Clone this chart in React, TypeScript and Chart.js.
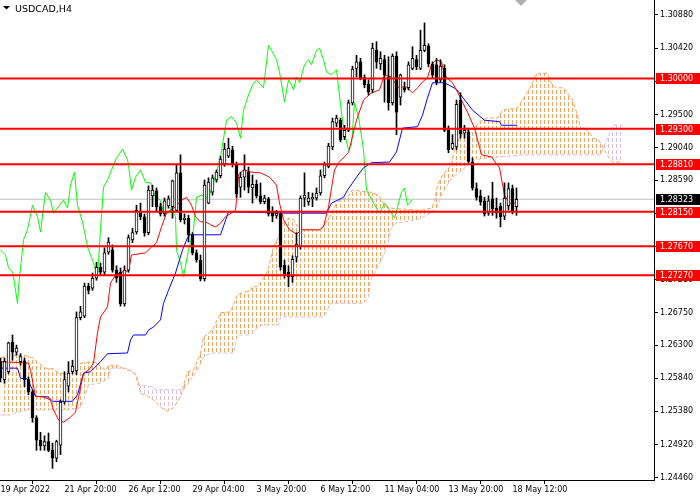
import React, { useEffect, useRef } from "react";
import { Chart, registerables } from "chart.js";

Chart.register(...registerables);

const SYMBOL = "USDCAD,H4";

const X_LABELS = [
  "19 Apr 2022", "21 Apr 20:00", "26 Apr 12:00", "29 Apr 04:00", "3 May 20:00",
  "6 May 12:00", "11 May 04:00", "13 May 20:00", "18 May 12:00",
];
const X_LABEL_BARS = [0, 16, 32, 48, 64, 80, 96, 112, 128];

const Y_TICKS = [
  1.3088, 1.3042, 1.2996, 1.295, 1.2904, 1.2859, 1.2813, 1.2767,
  1.2721, 1.2675, 1.263, 1.2584, 1.2538, 1.2492, 1.2446,
];

const LEVELS = [1.3, 1.293, 1.2881, 1.2815, 1.2767, 1.2727];
const LAST_PRICE = 1.28323;

const Y_MIN = 1.24428;
const Y_MAX = 1.31088;
const X_MIN = -0.125;
const X_MAX = 163.375;

const OPEN = [
  1.2607, 1.2582, 1.2593, 1.2634, 1.262, 1.2607, 1.2608, 1.2582, 1.2565, 1.2529,
  1.2498, 1.249, 1.2496, 1.2484, 1.2473, 1.2491, 1.2551, 1.2573, 1.2593, 1.2594,
  1.2668, 1.267, 1.2712, 1.2709, 1.2723, 1.2738, 1.2731, 1.2759, 1.2762, 1.2734,
  1.2731, 1.2687, 1.2734, 1.2776, 1.2787, 1.2815, 1.2808, 1.2786, 1.2837, 1.2844,
  1.2822, 1.2812, 1.2823, 1.2822, 1.2817, 1.2869, 1.2804, 1.2806, 1.2783, 1.2758,
  1.2748, 1.2722, 1.2827, 1.2842, 1.2859, 1.2865, 1.2881, 1.2892, 1.2901, 1.288,
  1.2849, 1.2863, 1.287, 1.2848, 1.2853, 1.2837, 1.2829, 1.2833, 1.2816, 1.281,
  1.2812, 1.2741, 1.2731, 1.2725, 1.2752, 1.2767, 1.2834, 1.2829, 1.2833, 1.2834,
  1.2841, 1.2865, 1.2878, 1.2905, 1.2938, 1.2942, 1.2919, 1.2928, 1.2966, 1.3014,
  1.3023, 1.3001, 1.2992, 1.2984, 1.3039, 1.302, 1.3026, 1.3002, 1.2966, 1.3031,
  1.2974, 1.2987, 1.2987, 1.3014, 1.3026, 1.3014, 1.3039, 1.3045, 1.302, 1.3019,
  1.2998, 1.3014, 1.2928, 1.2903, 1.2905, 1.297, 1.2924, 1.2926, 1.2884, 1.2847,
  1.2837, 1.283, 1.2813, 1.2833, 1.282, 1.2823, 1.2809, 1.2823, 1.2847, 1.2822,
];
const HIGH = [
  1.2612, 1.2612, 1.2634, 1.2644, 1.263, 1.2618, 1.2612, 1.2586, 1.2568, 1.2532,
  1.2509, 1.2504, 1.2508, 1.2494, 1.2498, 1.2554, 1.2593, 1.2607, 1.2609, 1.2676,
  1.2684, 1.2716, 1.2716, 1.273, 1.2745, 1.2744, 1.2765, 1.2779, 1.2769, 1.274,
  1.2737, 1.274, 1.2783, 1.2792, 1.2824, 1.2827, 1.2812, 1.2851, 1.2852, 1.2848,
  1.2827, 1.2834, 1.2837, 1.2859, 1.288, 1.2894, 1.2812, 1.281, 1.2786, 1.2762,
  1.2755, 1.2859, 1.2862, 1.2866, 1.2873, 1.2892, 1.291, 1.2917, 1.2906, 1.2884,
  1.287, 1.2894, 1.2877, 1.2866, 1.2859, 1.2855, 1.2838, 1.2835, 1.2822, 1.2817,
  1.2815, 1.2748, 1.274, 1.2754, 1.2786, 1.2837, 1.2869, 1.2842, 1.2841, 1.2848,
  1.2873, 1.2884, 1.291, 1.2945, 1.2949, 1.2945, 1.2935, 1.297, 1.3017, 1.3032,
  1.3028, 1.3005, 1.2998, 1.3049, 1.3051, 1.3037, 1.3032, 1.303, 1.3034, 1.3037,
  1.3006, 1.2995, 1.3023, 1.3044, 1.3032, 1.3067, 1.3077, 1.3048, 1.3023, 1.3028,
  1.3026, 1.3019, 1.2934, 1.2922, 1.297, 1.298, 1.2935, 1.2931, 1.289, 1.2855,
  1.2845, 1.2835, 1.2837, 1.2856, 1.2834, 1.2827, 1.2855, 1.2855, 1.2852, 1.2848,
];
const LOW = [
  1.2579, 1.2577, 1.259, 1.2609, 1.2616, 1.2602, 1.2572, 1.2561, 1.2523, 1.2484,
  1.2484, 1.2484, 1.2482, 1.2459, 1.2468, 1.2478, 1.2548, 1.2565, 1.259, 1.2589,
  1.2665, 1.2668, 1.2701, 1.2706, 1.272, 1.2727, 1.2727, 1.2756, 1.2731, 1.2717,
  1.2684, 1.2684, 1.2731, 1.2772, 1.2784, 1.2804, 1.2781, 1.2783, 1.2822, 1.2816,
  1.2809, 1.2809, 1.282, 1.2806, 1.2816, 1.2801, 1.2798, 1.2773, 1.2755, 1.2745,
  1.2719, 1.2719, 1.2826, 1.2838, 1.2856, 1.2862, 1.2878, 1.289, 1.2877, 1.2835,
  1.2835, 1.2845, 1.2841, 1.2827, 1.2834, 1.2826, 1.2826, 1.2809, 1.2801, 1.2806,
  1.2734, 1.2723, 1.2711, 1.2717, 1.2745, 1.2763, 1.2822, 1.2824, 1.2822, 1.2831,
  1.2838, 1.2862, 1.2876, 1.2901, 1.2933, 1.2912, 1.2915, 1.2926, 1.2963, 1.3002,
  1.2998, 1.2987, 1.2977, 1.298, 1.3014, 1.3012, 1.2967, 1.2956, 1.2963, 1.2922,
  1.2963, 1.2981, 1.2984, 1.3012, 1.3012, 1.3012, 1.3037, 1.3016, 1.3001, 1.2991,
  1.2995, 1.2926, 1.2897, 1.2901, 1.2901, 1.2917, 1.2917, 1.2883, 1.2845, 1.2831,
  1.2824, 1.2809, 1.281, 1.281, 1.2806, 1.2794, 1.2804, 1.2817, 1.2812, 1.281,
];
const CLOSE = [
  1.2584, 1.2607, 1.2633, 1.262, 1.2626, 1.2614, 1.2582, 1.2565, 1.2529, 1.2498,
  1.249, 1.2496, 1.2484, 1.2473, 1.2496, 1.2551, 1.2582, 1.2591, 1.2601, 1.2668,
  1.2676, 1.2712, 1.2706, 1.2723, 1.2738, 1.2731, 1.2758, 1.2773, 1.2734, 1.2723,
  1.2687, 1.2734, 1.2779, 1.2786, 1.2817, 1.2808, 1.2786, 1.2845, 1.2845, 1.2822,
  1.2812, 1.283, 1.2833, 1.2858, 1.2869, 1.2804, 1.2806, 1.2783, 1.2758, 1.2748,
  1.2722, 1.2852, 1.2856, 1.2862, 1.287, 1.2888, 1.2902, 1.2903, 1.2881, 1.284,
  1.2863, 1.2873, 1.2849, 1.2853, 1.2837, 1.2829, 1.2834, 1.2812, 1.2809, 1.2813,
  1.2738, 1.2729, 1.2725, 1.2749, 1.277, 1.2834, 1.2838, 1.2834, 1.2835, 1.2841,
  1.2865, 1.288, 1.2906, 1.294, 1.2945, 1.2915, 1.2928, 1.2966, 1.3013, 1.3023,
  1.3001, 1.2991, 1.2981, 1.3042, 1.3023, 1.3028, 1.3005, 1.2966, 1.3031, 1.2953,
  1.3005, 1.2984, 1.3019, 1.3028, 1.3016, 1.3039, 1.3046, 1.302, 1.3005, 1.2995,
  1.3017, 1.2928, 1.2901, 1.291, 1.2964, 1.2923, 1.2928, 1.2885, 1.2848, 1.2835,
  1.2829, 1.2812, 1.283, 1.2819, 1.2813, 1.2808, 1.2834, 1.2847, 1.2816, 1.28323,
];

// [bar index, price]
const TENKAN: [number, number][] = [
  [0, 1.2607], [7, 1.2605], [7.5, 1.2595], [8.75, 1.2559], [10.75, 1.2558], [12.5, 1.2554],
  [13.25, 1.254], [14.5, 1.2526], [15.75, 1.2523], [17.5, 1.253], [18.75, 1.2537], [19.5, 1.2557],
  [20.75, 1.2591], [22, 1.2595], [23.25, 1.2605], [24.25, 1.2647], [25, 1.2669], [26.75, 1.2683],
  [27.5, 1.2716], [28.75, 1.2727], [30, 1.2731], [32, 1.2733], [32.75, 1.2755], [36.25, 1.2758],
  [37.75, 1.2766], [39, 1.2772], [40.25, 1.2794], [41.5, 1.2813], [43.75, 1.2822], [45.25, 1.2831],
  [46.5, 1.2835], [47.75, 1.2824], [48.75, 1.2808], [50, 1.2801], [51.25, 1.2801], [52.5, 1.2797],
  [53.75, 1.2794], [55, 1.2799], [56.25, 1.2808], [58.75, 1.2817], [59, 1.2831], [59.5, 1.2866],
  [60.75, 1.2873], [62.75, 1.287], [65, 1.2869], [67.25, 1.2863], [69, 1.2852], [69.75, 1.2827],
  [70.75, 1.2804], [72.25, 1.279], [74, 1.2784], [75.25, 1.279], [79.75, 1.279], [80.75, 1.2794],
  [82, 1.2822], [83.5, 1.2873], [84.5, 1.2883], [87, 1.2897], [89, 1.2942], [90.75, 1.297],
  [92.75, 1.298], [94.75, 1.2984], [96, 1.3005], [97.75, 1.3002], [99.25, 1.2988], [101.5, 1.2988],
  [103, 1.298], [104.25, 1.2987], [105.5, 1.2995], [106.75, 1.3001], [107.75, 1.3019], [109, 1.3026],
  [110.25, 1.3023], [110.75, 1.3012], [111.5, 1.3001], [113, 1.2994], [114.25, 1.2981], [115.5, 1.2967],
  [116.75, 1.2953], [118.5, 1.2931], [120.25, 1.2894], [122.75, 1.2891], [124.75, 1.2876], [126, 1.2838],
  [127.25, 1.2827], [129, 1.2827],
];

const KIJUN: [number, number][] = [
  [0, 1.2598], [4.25, 1.2598], [5, 1.2584], [6.75, 1.2583], [8.75, 1.2559], [12, 1.2558],
  [13, 1.2552], [18, 1.2552], [19.25, 1.2561], [20.75, 1.2591], [22.5, 1.2593], [25, 1.2607],
  [26.75, 1.2618], [31.75, 1.2619], [32.5, 1.2637], [33.25, 1.2644], [36.25, 1.2644], [37, 1.2651],
  [38.25, 1.2655], [40, 1.2665], [40.75, 1.2688], [42, 1.2706], [43.75, 1.273], [45.5, 1.2762],
  [46.75, 1.2779], [47.5, 1.2783], [55, 1.2783], [57, 1.2815], [72, 1.2813], [81.5, 1.2813],
  [82.75, 1.2827], [85.75, 1.2835], [86.75, 1.2845], [89, 1.2863], [90.75, 1.2876], [92.75, 1.2883],
  [97.25, 1.2884], [99, 1.2898], [100.5, 1.2931], [104.25, 1.2933], [105.5, 1.2949], [106.75, 1.2973],
  [108, 1.2994], [111, 1.2994], [114, 1.2985], [118, 1.2956], [121, 1.2942], [124.75, 1.294],
  [125.25, 1.2935], [129.25, 1.2935],
];

const CHIKOU: [number, number][] = [
  [0, 1.2762], [1.25, 1.2755], [2, 1.2737], [3, 1.2731], [3.25, 1.2725], [4.25, 1.2688],
  [4.5, 1.2711], [5.75, 1.2776], [6.75, 1.279], [8, 1.2824], [9.25, 1.2808], [10, 1.2787],
  [11.25, 1.2842], [12.5, 1.2831], [13.25, 1.2813], [14.5, 1.2822], [15.75, 1.2831], [16.75, 1.282],
  [17.5, 1.2852], [18.5, 1.287], [19.25, 1.2824], [20.5, 1.2801], [21.75, 1.2766], [23.25, 1.2744],
  [24.25, 1.2725], [25, 1.279], [25.75, 1.2849], [27, 1.2862], [28.75, 1.2887], [30.5, 1.2902],
  [31.75, 1.2887], [32, 1.288], [32.75, 1.2845], [33.75, 1.2863], [35, 1.2873], [36.25, 1.2856],
  [37.5, 1.2855], [38.75, 1.2835], [40, 1.2831], [40.75, 1.2813], [42, 1.2813], [42.75, 1.2822],
  [43.75, 1.2808], [44, 1.2762], [45, 1.2744], [45.75, 1.2725], [47, 1.2762], [48.25, 1.279],
  [49, 1.2835], [50.25, 1.2838], [52, 1.2834], [53.25, 1.2855], [55, 1.2891], [56.5, 1.2942],
  [57.75, 1.2947], [59, 1.2938], [60, 1.2917], [60.75, 1.2956], [62, 1.2977], [63, 1.2991],
  [64, 1.2998], [65.75, 1.2987], [67, 1.3046], [67.75, 1.3039], [69, 1.3026], [69.75, 1.3009],
  [71, 1.2967], [72, 1.2998], [72.75, 1.2991], [73.25, 1.2984], [74, 1.3002], [74.75, 1.2994],
  [76, 1.3019], [77, 1.3026], [77.75, 1.3019], [79, 1.3039], [79.75, 1.3042], [80.75, 1.3026],
  [81.5, 1.3009], [82.75, 1.3005], [84, 1.3012], [84.5, 1.2988], [85.25, 1.2952], [86, 1.2924],
  [87, 1.2901], [87.75, 1.2908], [88.5, 1.2966], [89.5, 1.2947], [90.75, 1.2901], [91.5, 1.2845],
  [93.25, 1.2827], [94.75, 1.2813], [96, 1.2827], [97.25, 1.2817], [98.5, 1.2806], [99.25, 1.2822],
  [100.25, 1.2842], [101, 1.2848], [101.75, 1.2824], [103, 1.2832],
];

const SPAN_A: [number, number][] = [
  [0, 1.2612], [1.75, 1.2615], [5, 1.2616], [6.75, 1.2615], [8.25, 1.2612], [9.5, 1.2605],
  [11.25, 1.2598], [13.25, 1.2597], [14.5, 1.2591], [16.25, 1.259], [17.5, 1.2591], [18.75, 1.26],
  [20, 1.2605], [23, 1.2607], [24.25, 1.2605], [25, 1.26], [26.25, 1.2595], [27, 1.2602],
  [29.25, 1.2602], [30.5, 1.2598], [32, 1.2595], [33, 1.2593], [34.25, 1.2584], [35, 1.2563],
  [36.75, 1.2559], [38.25, 1.2554], [40, 1.2544], [41.75, 1.2538], [43.25, 1.2543], [45, 1.2558],
  [45.5, 1.2568], [46.75, 1.2593], [48.25, 1.2595], [50, 1.2619], [50.75, 1.2641], [53, 1.2651],
  [55, 1.2675], [57.5, 1.2676], [59.25, 1.27], [62.5, 1.2706], [63, 1.2711], [64.25, 1.2711],
  [66.25, 1.2727], [67, 1.2737], [68.25, 1.2766], [69.5, 1.278], [70.5, 1.2799], [72, 1.2806],
  [73.25, 1.2804], [74.25, 1.2794], [75, 1.279], [80, 1.279], [82.5, 1.281], [84.25, 1.2829],
  [86.75, 1.2835], [88, 1.2845], [92.5, 1.2842], [94.5, 1.2838], [96, 1.2824], [97.5, 1.282],
  [105, 1.2817], [107.75, 1.282], [108.5, 1.2829], [109.25, 1.2852], [110.5, 1.2866], [112.75, 1.288],
  [113.5, 1.2903], [114.75, 1.2917], [116, 1.2926], [118.5, 1.2931], [119.75, 1.294], [121.5, 1.2945],
  [124.25, 1.2945], [125.5, 1.2956], [129.25, 1.2959], [130, 1.2966], [131.75, 1.2981], [133, 1.2994],
  [133.75, 1.3005], [134.5, 1.3007], [136.75, 1.3007], [137.5, 1.2995], [138.75, 1.2987], [140.75, 1.2987],
  [141.75, 1.298], [143, 1.297], [144.25, 1.2949], [145, 1.2931], [146.75, 1.2928], [148.25, 1.2917],
  [149.5, 1.2915], [150.75, 1.2903], [152, 1.2891], [153, 1.2884], [155.5, 1.2884],
];

const SPAN_B: [number, number][] = [
  [0, 1.2533], [2.5, 1.2533], [4.25, 1.2537], [6.75, 1.254], [16.75, 1.254], [20, 1.2543],
  [21.25, 1.2561], [22, 1.2575], [25, 1.2577], [27, 1.2584], [27.5, 1.2598], [31.25, 1.2598],
  [32.5, 1.2595], [33.75, 1.2591], [34.25, 1.2575], [38, 1.2572], [38.75, 1.2568], [45.75, 1.2568],
  [47.5, 1.2582], [49.25, 1.2595], [50.75, 1.2613], [52.5, 1.2619], [58.25, 1.2619], [59.25, 1.2644],
  [62.5, 1.2644], [64.25, 1.2654], [65.5, 1.2658], [69.5, 1.2658], [70, 1.2669], [80.75, 1.2669],
  [81.75, 1.2679], [82.5, 1.2688], [90.75, 1.2688], [92, 1.2697], [92.5, 1.272], [94.25, 1.2737],
  [95.75, 1.2755], [96.75, 1.2766], [97.5, 1.279], [98.75, 1.2799], [104.25, 1.2804], [107.5, 1.2813],
  [108.5, 1.2815], [109, 1.282], [110.25, 1.2838], [112.75, 1.2862], [115.5, 1.2873], [118.25, 1.2887],
  [122.5, 1.289], [130.75, 1.2894], [150, 1.2894], [150.75, 1.2905], [152.5, 1.2926], [153.25, 1.2935],
  [155.5, 1.2935],
];

const FONT = '"DejaVu Sans", Verdana, sans-serif';

function makePattern(color: string): CanvasPattern | string {
  const c = document.createElement("canvas");
  c.width = 4;
  c.height = 6;
  const g = c.getContext("2d");
  if (!g) return color;
  g.fillStyle = color;
  g.fillRect(0, 0, 1, 4);
  return g.createPattern(c, "repeat") || color;
}

const pts = (arr: [number, number][]) => arr.map(([x, y]) => ({ x, y }));

const overlayPlugin = {
  id: "mtOverlay",
  afterDraw(chart: any) {
    const { ctx, chartArea, scales } = chart;
    const y = scales.y;
    ctx.save();
    // title
    ctx.fillStyle = "#000";
    ctx.beginPath();
    ctx.moveTo(3, 6);
    ctx.lineTo(10, 6);
    ctx.lineTo(6.5, 9.5);
    ctx.closePath();
    ctx.fill();
    ctx.font = `9.5px ${FONT}`;
    ctx.textBaseline = "alphabetic";
    ctx.textAlign = "left";
    ctx.fillText(SYMBOL, 15, 11.5);
    // chart shift marker
    ctx.fillStyle = "#B0B0B0";
    ctx.beginPath();
    ctx.moveTo(515, 0);
    ctx.lineTo(527, 0);
    ctx.lineTo(521, 6);
    ctx.closePath();
    ctx.fill();
    // price boxes
    ctx.font = `8px ${FONT}`;
    ctx.textBaseline = "middle";
    const box = (v: number, bg: string) => {
      const py = Math.round(y.getPixelForValue(v));
      ctx.fillStyle = bg;
      ctx.fillRect(chartArea.right + 2, py - 5, 44, 11);
      ctx.fillStyle = "#FFFFFF";
      ctx.fillText(v.toFixed(5), chartArea.right + 6, py + 0.5);
    };
    LEVELS.forEach((v) => box(v, "#FF0000"));
    box(LAST_PRICE, "#000000");
    ctx.restore();
  },
};

export default function App() {
  const ref = useRef<HTMLCanvasElement | null>(null);

  useEffect(() => {
    const canvas = ref.current;
    if (!canvas) return;
    const orange = makePattern("#F4A460");
    const thistle = makePattern("#D8BFD8");

    const levelSets = LEVELS.map((v) => ({
      type: "line",
      data: [
        { x: X_MIN - 2, y: v },
        { x: X_MAX + 2, y: v },
      ],
      borderColor: "#FF0000",
      borderWidth: 2,
      pointRadius: 0,
      fill: false,
      order: 0,
    }));

    const chart = new Chart(canvas, {
      type: "line",
      data: {
        datasets: [
          ...levelSets,
          {
            type: "bar",
            data: OPEN.map((o, i) => ({ x: i, y: [o, CLOSE[i]] })),
            backgroundColor: OPEN.map((o, i) => (CLOSE[i] >= o ? "#FFFFFF" : "#000000")),
            borderColor: "#000000",
            borderWidth: 1,
            borderSkipped: false,
            barThickness: 3,
            minBarLength: 1,
            grouped: false,
            order: 1,
          },
          {
            type: "bar",
            data: HIGH.map((h, i) => ({ x: i, y: [LOW[i], h] })),
            backgroundColor: "#000000",
            borderWidth: 0,
            barThickness: 1,
            grouped: false,
            order: 2,
          },
          {
            type: "line",
            data: pts(TENKAN),
            borderColor: "#FF0000",
            borderWidth: 1,
            pointRadius: 0,
            fill: false,
            order: 3,
          },
          {
            type: "line",
            data: pts(KIJUN),
            borderColor: "#0000FF",
            borderWidth: 1,
            pointRadius: 0,
            fill: false,
            order: 3,
          },
          {
            type: "line",
            data: pts(CHIKOU),
            borderColor: "#00FF00",
            borderWidth: 1,
            pointRadius: 0,
            fill: false,
            order: 3,
          },
          {
            type: "line",
            data: [
              { x: X_MIN - 2, y: LAST_PRICE },
              { x: X_MAX + 2, y: LAST_PRICE },
            ],
            borderColor: "#C0C0C0",
            borderWidth: 1,
            pointRadius: 0,
            fill: false,
            order: 6,
          },
          {
            type: "line",
            data: pts(SPAN_A),
            borderColor: "#F4A460",
            borderWidth: 1,
            borderDash: [4, 2],
            pointRadius: 0,
            backgroundColor: orange,
            fill: { target: "+1", above: orange, below: thistle },
            order: 7,
          },
          {
            type: "line",
            data: pts(SPAN_B),
            borderColor: "#D8BFD8",
            borderWidth: 1,
            borderDash: [4, 2],
            pointRadius: 0,
            fill: false,
            order: 7,
          },
        ] as any,
      },
      options: {
        responsive: false,
        animation: false,
        devicePixelRatio: 1,
        events: [],
        layout: { padding: 0 },
        plugins: {
          legend: { display: false },
          tooltip: { enabled: false },
        },
        scales: {
          x: {
            type: "linear",
            min: X_MIN,
            max: X_MAX,
            offset: false,
            position: "bottom",
            grid: {
              display: true,
              drawOnChartArea: false,
              drawTicks: true,
              tickLength: 4,
              color: "#000000",
            },
            border: { display: true, color: "#000000", width: 1 },
            ticks: {
              autoSkip: false,
              maxRotation: 0,
              minRotation: 0,
              align: "start",
              padding: 1,
              color: "#000000",
              font: { family: FONT, size: 8 },
              callback: (v: any) => {
                const k = X_LABEL_BARS.indexOf(Number(v));
                return k >= 0 ? X_LABELS[k] : "";
              },
            },
            afterBuildTicks: (s: any) => {
              s.ticks = X_LABEL_BARS.map((v) => ({ value: v }));
            },
            afterFit: (s: any) => {
              s.height = 20;
              s.paddingLeft = 0;
              s.paddingRight = 0;
              s.paddingTop = 0;
              s.paddingBottom = 0;
            },
          },
          y: {
            type: "linear",
            position: "right",
            min: Y_MIN,
            max: Y_MAX,
            grid: {
              display: true,
              drawOnChartArea: false,
              drawTicks: true,
              tickLength: 4,
              color: "#000000",
            },
            border: { display: true, color: "#000000", width: 1 },
            ticks: {
              padding: 2,
              color: "#000000",
              font: { family: FONT, size: 8 },
              callback: (v: any) => Number(v).toFixed(5),
            },
            afterBuildTicks: (s: any) => {
              s.ticks = Y_TICKS.map((v) => ({ value: v }));
            },
            afterFit: (s: any) => {
              s.width = 46;
              s.paddingTop = 0;
              s.paddingBottom = 0;
              s.paddingLeft = 0;
              s.paddingRight = 0;
            },
          },
        },
      } as any,
      plugins: [overlayPlugin],
    } as any);

    return () => chart.destroy();
  }, []);

  return (
    <div
      style={{
        position: "fixed",
        left: 0,
        top: 0,
        width: 700,
        height: 500,
        background: "#FFFFFF",
      }}
    >
      <canvas ref={ref} width={700} height={500} style={{ display: "block", width: 700, height: 500 }} />
    </div>
  );
}
